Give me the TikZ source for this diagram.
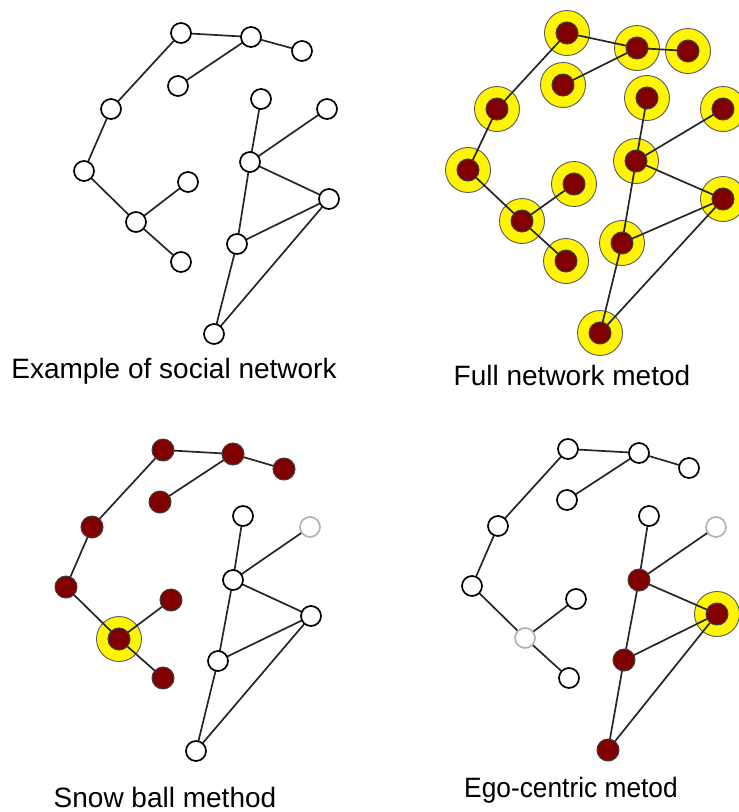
\documentclass[tikz,border=0pt]{standalone}
\usepackage{fontspec}
\setmainfont{Liberation Sans}
\usetikzlibrary{positioning}

\definecolor{darkred}{RGB}{128,0,0}
\definecolor{glow}{RGB}{255,245,0}

\tikzset{
  plain/.style = {circle, draw, fill=white, line width=1.7pt, minimum size=20pt, inner sep=0pt},
  faint/.style = {plain, draw=black!30},
  dot/.style   = {circle, draw=black!75, fill=darkred, line width=1pt, minimum size=22pt, inner sep=0pt},
  ring/.style  = {circle, draw=black!65, fill=glow, line width=0.9pt, minimum size=45pt, inner sep=0pt},
  link/.style  = {line width=1.7pt, draw=black!85},
  caption/.style = {font=\fontsize{28}{32}\selectfont, anchor=base, inner sep=0pt}
}

\begin{document}
\begin{tikzpicture}[x=1pt, y=-1pt]
  \useasboundingbox (0,0) rectangle (739,812);

  % node positions of the four copies of the network
  \foreach \n/\x/\y in {a/181/33, b/251/37, c/302/51, d/178/86, e/111/109,
      f/261/99, g/327/109, h/84/171, i/250/162, j/188/182, k/136/222,
      l/329/199, m/237/244, n/181/262, o/214/334}
    \coordinate (A-\n) at (\x,\y);
  \foreach \n/\x/\y in {a/567/33, b/637/48, c/688/51, d/563/85, e/497/109,
      f/647/98, g/723/109, h/468/170, i/636/161, j/574/184, k/522/221,
      l/723/199, m/622/243, n/566/261, o/600/333}
    \coordinate (B-\n) at (\x,\y);
  \foreach \n/\x/\y in {a/163/450, b/233/454, c/284/469, d/160/502, e/92/527,
      f/243/516, g/310/527, h/66/587, i/233/580, j/171/600, k/119/639,
      l/311/616, m/218/661, n/163/678, o/196/751}
    \coordinate (C-\n) at (\x,\y);
  \foreach \n/\x/\y in {a/568/449, b/639/453, c/689/468, d/567/500, e/498/526,
      f/649/516, g/716/527, h/472/586, i/639/580, j/576/599, k/525/638,
      l/717/614, m/624/660, n/569/678, o/608/750}
    \coordinate (D-\n) at (\x,\y);

  % highlighted actors
  \foreach \n in {a,b,c,d,e,f,g,h,i,j,k,l,m,n,o}
    \node[ring] (Bh\n) at (B-\n) {};
  \node[ring] (Chk) at (C-k) {};
  \node[ring] (Dhl) at (D-l) {};

  % ties
  \foreach \p in {A,B,C,D}
    \foreach \u/\v in {a/b, b/c, b/d, a/e, e/h, h/k, k/j, k/n,
        f/i, g/i, i/l, i/m, m/l, l/o, m/o}
      \draw[link] (\p-\u) -- (\p-\v);

  % actors
  \foreach \n in {a,b,c,d,e,f,g,h,i,j,k,l,m,n,o}
    \node[plain] (A\n) at (A-\n) {};
  \foreach \n in {a,b,c,d,e,f,g,h,i,j,k,l,m,n,o}
    \node[dot] (B\n) at (B-\n) {};
  \foreach \n/\s in {a/dot, b/dot, c/dot, d/dot, e/dot, f/plain, g/faint,
      h/dot, i/plain, j/dot, k/dot, l/plain, m/plain, n/dot, o/plain}
    \node[\s] (C\n) at (C-\n) {};
  \foreach \n/\s in {a/plain, b/plain, c/plain, d/plain, e/plain, f/plain,
      g/faint, h/plain, i/dot, j/plain, k/faint, l/dot, m/dot, n/plain, o/dot}
    \node[\s] (D\n) at (D-\n) {};

  \node[caption] (capA) at (174,378) {Example of social network};
  \node[caption] (capB) at (572,385) {Full network metod};
  \node[caption] (capC) at (165,807) {Snow ball method};
  \node[caption, xscale=0.94] (capD) at (571,797) {Ego-centric metod};
\end{tikzpicture}
\end{document}
